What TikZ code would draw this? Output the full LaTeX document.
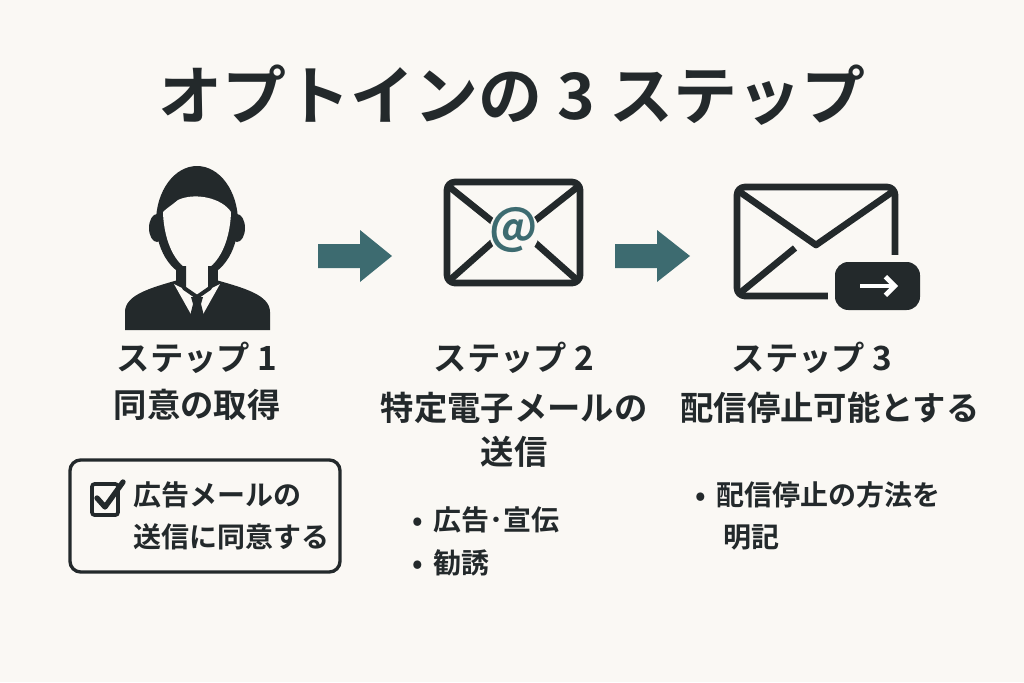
\documentclass[tikz,border=0pt]{standalone}
\usepackage{fontspec}
\usetikzlibrary{arrows.meta}
\setmainfont{Noto Sans CJK JP}[BoldFont={Noto Sans CJK JP Bold}]
\definecolor{bg}{HTML}{FAF8F4}
\definecolor{ink}{HTML}{23292B}
\definecolor{teal}{HTML}{3D6B70}
\begin{document}
\begin{tikzpicture}[x=0.75pt,y=-0.75pt,
  txt/.style={text=ink,font=\bfseries\fontsize{25}{29}\selectfont,inner sep=0},
  small/.style={text=ink,font=\bfseries\fontsize{21}{25}\selectfont,inner sep=0,anchor=west},
  blockarrow/.style={fill=teal}]
\fill[bg] (0,0) rectangle (1024,682);
\useasboundingbox (0,0) rectangle (1024,682);
\node[txt,font=\bfseries\fontsize{48}{54}\selectfont] (title) at (512,95) {オプトインの 3 ステップ};
% person
\fill[ink] (125,330) -- (125,312) .. controls (125,295) and (150,288) .. (178,280) -- (216,280) .. controls (244,288) and (270,295) .. (270,312) -- (270,330) -- cycle;
\fill[ink] (176,258) rectangle (218,292);
\fill[ink] (197,222) ellipse (41 and 56);
\fill[ink] (157,228) ellipse (8 and 14);
\fill[ink] (237,228) ellipse (8 and 14);
\fill[bg] (163,212) .. controls (164,245) and (178,270) .. (197,273) .. controls (216,270) and (230,245) .. (231,212) .. controls (222,198) and (195,192) .. (178,200) .. controls (172,205) and (167,208) .. (163,212) -- cycle;
\fill[bg] (184,265) -- (184,288) -- (197,298) -- (210,288) -- (210,265) -- cycle;
\fill[bg] (174,284) -- (197,325) -- (220,284) -- (208,290) -- (197,298) -- (186,290) -- cycle;
\draw[ink,line width=3pt,line join=round] (184,266) -- (184,288) -- (197,297) -- (210,288) -- (210,266);
\fill[ink] (191,297) -- (203,297) -- (201,304) -- (205,320) -- (197,330) -- (189,320) -- (193,304) -- cycle;
% arrows
\fill[blockarrow] (318,244) -- (360,244) -- (360,230) -- (392,256) -- (360,282) -- (360,268) -- (318,268) -- cycle;
\fill[blockarrow] (615,244) -- (657,244) -- (657,230) -- (690,256) -- (657,282) -- (657,268) -- (615,268) -- cycle;
% envelope 2
\draw[ink,line width=5pt,rounded corners=6,line join=round] (447,182) rectangle (580,283);
\draw[ink,line width=5pt,line join=round] (447,185) -- (513,238) -- (580,185);
\draw[ink,line width=5pt] (450,280) -- (495,240) (577,280) -- (532,240);
\fill[bg] (514,232) circle (25);
\node[text=teal,font=\bfseries\fontsize{36}{40}\selectfont] (at) at (514,230) {@};
% envelope 3
\draw[ink,line width=5pt,rounded corners=6,line join=round] (737,187) rectangle (895,296);
\draw[ink,line width=5pt,line join=round] (737,190) -- (816,245) -- (895,190);
\draw[ink,line width=5pt] (740,293) -- (795,248);
\fill[bg,rounded corners=12] (828,255) rectangle (927,318);
\fill[ink,rounded corners=10] (835,262) rectangle (920,310);
\draw[white,line width=3.5pt,-{Straight Barb[length=7pt,width=14pt]}] (860,286) -- (898,286);
% step texts
\node[txt] (s1) at (197,358) {ステップ 1};
\node[txt] (s1b) at (197,405) {同意の取得};
\node[txt] (s2) at (514,358) {ステップ 2};
\node[txt] (s2b) at (514,408) {特定電子メールの};
\node[txt] (s2c) at (514,452) {送信};
\node[txt] (s3) at (812,358) {ステップ 3};
\node[txt] (s3b) at (830,408) {配信停止可能とする};
% box
\draw[ink,line width=2.5pt,rounded corners=8] (70,460) rectangle (340,572);
\draw[ink,line width=2.8pt,rounded corners=2] (92,484) rectangle (118,515);
\draw[ink,line width=4pt,line cap=round,line join=round] (97,498) -- (105,507) -- (123,482);
\node[small] (b1) at (133,495) {広告メールの};
\node[small] (b2) at (133,537) {送信に同意する};
% bullets
\node[small] (p1) at (412,520) {•\, 広告･宣伝};
\node[small] (p2) at (412,563) {•\, 勧誘};
\node[small] (q1) at (695,495) {•\, 配信停止の方法を};
\node[small] (q2) at (723,537) {明記};
\end{tikzpicture}
\end{document}
